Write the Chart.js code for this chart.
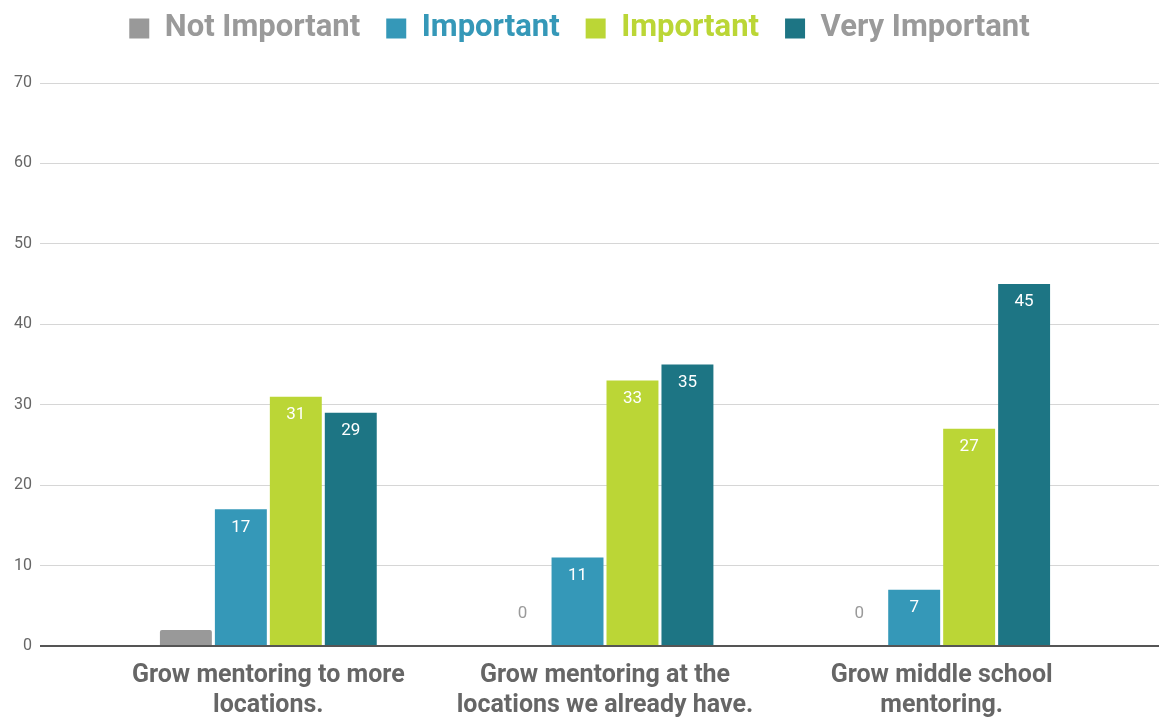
<!DOCTYPE html>
<html>
<head>
<meta charset="utf-8">
<script src="https://cdn.jsdelivr.net/npm/chart.js@4/dist/chart.umd.min.js"></script>
<style>
  body { margin: 0; background: #fff; }
</style>
</head>
<body>
<canvas id="goalsChart" width="1159" height="717"></canvas>
<script>
// chart data
var categories = [
    ["Grow mentoring to more", "locations."],
    ["Grow mentoring at the", "locations we already have."],
    ["Grow middle school", "mentoring."]
];
var seriesNames = ["Not Important", "Important", "Important", "Very Important"];
var notImportant = [2, 0, 0];
var important1 = [17, 11, 7];
var important2 = [31, 33, 27];
var veryImportant = [29, 35, 45];
var yTicks = [0, 10, 20, 30, 40, 50, 60, 70];

var barColours = ["#999999", "#3598b8", "#bbd636", "#1d7584"];
var legendTextColours = ["#9a9a9a", "#3598b8", "#bbd636", "#9a9a9a"];

var topPad = -13;

function gridColour(ctx)
{
    return ctx.tick && ctx.tick.value === 0 ? "#555555" : "#d6d6d6";
}
function gridWidth(ctx)
{
    return ctx.tick && ctx.tick.value === 0 ? 2 : 1;
}

// draws the value labels on the bars
var barLabels = {
    id: "barLabels",
    afterDatasetsDraw: function(chart) {
        var ctx = chart.ctx;
        ctx.save();
        ctx.font = "17px Roboto";
        ctx.textAlign = "center";
        ctx.textBaseline = "middle";
        chart.data.datasets.forEach(function(ds, i) {
            var meta = chart.getDatasetMeta(i);
            meta.data.forEach(function(bar, j) {
                var v = ds.data[j];
                var h = bar.base - bar.y;
                if (v === 0) {
                    ctx.fillStyle = "#9a9a9a";
                    ctx.fillText("0", bar.x, bar.base - 32);
                } else if (h > 30) {
                    ctx.fillStyle = "#ffffff";
                    ctx.fillText(String(v), bar.x, bar.y + 18);
                }
            });
        });
        ctx.restore();
    }
};

// make the legend take up the space above the plot
var legendSpace = {
    id: "legendSpace",
    beforeInit: function(chart) {
        var fit = chart.legend.fit;
        chart.legend.fit = function() {
            fit.call(this);
            this.height = 83 - topPad;
        };
    }
};

var allSeries = [notImportant, important1, important2, veryImportant];
var datasets = allSeries.map(function(values, i) {
    return {
        label: seriesNames[i],
        data: values,
        backgroundColor: barColours[i],
        borderRadius: i === 0 ? 2 : 0,
        categoryPercentage: 0.653,
        barPercentage: 0.945
    };
});

new Chart(document.getElementById("goalsChart"), {
    type: "bar",
    data: { labels: categories, datasets: datasets },
    plugins: [barLabels, legendSpace],
    options: {
        responsive: false,
        animation: false,
        layout: { padding: { top: topPad, left: 0, right: 0, bottom: 0 } },
        plugins: {
            tooltip: { enabled: false },
            legend: {
                position: "top",
                labels: {
                    boxWidth: 20,
                    boxHeight: 20,
                    padding: 26,
                    font: { family: "Roboto", size: 31, weight: "bold" },
                    generateLabels: function(chart) {
                        return chart.data.datasets.map(function(ds, i) {
                            return {
                                text: ds.label,
                                fillStyle: barColours[i],
                                strokeStyle: barColours[i],
                                lineWidth: 0,
                                fontColor: legendTextColours[i],
                                datasetIndex: i
                            };
                        });
                    }
                }
            }
        },
        scales: {
            x: {
                afterFit: function(scale) { scale.height = 71; },
                grid: { display: false, drawTicks: false, tickLength: 0 },
                border: { display: false },
                ticks: {
                    padding: 15,
                    maxRotation: 0,
                    color: "#666666",
                    font: { family: "Roboto", size: 25, weight: "bold", lineHeight: 1.2 }
                }
            },
            y: {
                min: 0,
                max: 70,
                afterFit: function(scale) { scale.width = 100; },
                afterBuildTicks: function(scale) {
                    scale.ticks = yTicks.map(function(v) { return { value: v }; });
                },
                border: { display: false },
                grid: { color: gridColour, lineWidth: gridWidth, tickLength: 60 },
                ticks: {
                    padding: 8,
                    color: "#666666",
                    font: { family: "Roboto", size: 16 }
                }
            },
            y2: {
                position: "right",
                min: 0,
                max: 70,
                afterFit: function(scale) { scale.width = 49; },
                afterBuildTicks: function(scale) {
                    scale.ticks = yTicks.map(function(v) { return { value: v }; });
                },
                border: { display: false },
                grid: { color: gridColour, lineWidth: gridWidth, tickLength: 49, drawOnChartArea: false },
                ticks: { display: false }
            }
        }
    }
});
</script>
</body>
</html>
